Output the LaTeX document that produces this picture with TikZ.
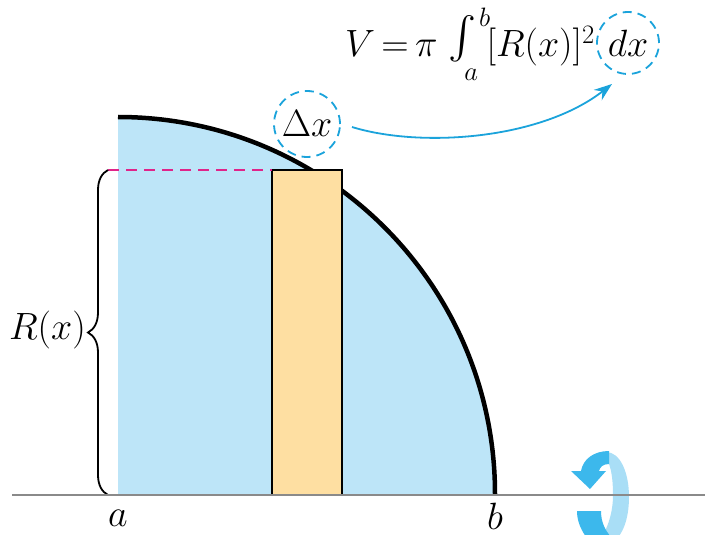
\RequirePackage{fix-cm}
\documentclass[tikz,border=0pt]{standalone}
\usepackage{graphicx}
\usetikzlibrary{decorations.pathreplacing,arrows.meta}
\definecolor{fillblue}{HTML}{BDE5F8}
\definecolor{rectorange}{HTML}{FEDFA2}
\definecolor{magentad}{HTML}{E0248A}
\definecolor{cyanl}{HTML}{1BA3DB}
\definecolor{rotdark}{HTML}{3CB8EC}
\definecolor{rotlight}{HTML}{A9DEF6}
\definecolor{axisgray}{HTML}{8A8A8A}
\newcommand\bigintegral{\mathop{\vcenter{\hbox{\scalebox{4.2}{$\int$}}}}\nolimits}
\tikzset{
  bigtext/.style={font=\fontsize{38}{42}\selectfont},
  dashcircle/.style={circle, draw=cyanl, line width=1.8pt, dash pattern=on 9pt off 6pt, inner sep=0pt},
}
\begin{document}
\begin{tikzpicture}[x=1pt,y=-1pt]
\useasboundingbox (0,0) rectangle (705,535);
% region under curve
\fill[fillblue] (118,495) -- (118,117) arc[start angle=-90,end angle=0,radius=377] -- cycle;
\draw[line width=4.5pt] (118,117) arc[start angle=-90,end angle=0,radius=377];
% slab
\node[draw=black, line width=1.5pt, fill=rectorange, minimum width=70pt, minimum height=325pt, inner sep=0pt, outer sep=0pt, anchor=south west] (slab) at (272,495) {};
% dashed height line
\coordinate (dashstart) at (108,170);
\draw[magentad, line width=1.8pt, dash pattern=on 11pt off 7pt] (dashstart) -- (slab.north west);
% brace
\coordinate (bbot) at (108,495);
\coordinate (btop) at (108,170);
\draw[decorate, decoration={brace, amplitude=20pt}, line width=1.8pt] (bbot) -- (btop);
\node[bigtext, anchor=east, inner sep=2pt] (rlabel) at (88,330) {$R(x)$};
% rotation symbol
\fill[rotlight] (606,452) .. controls (620,452) and (629,472) .. (629,497) .. controls (629,520) and (622,535) .. (615,540) -- (600,540) .. controls (608,528) and (613,512) .. (613,495) .. controls (613,475) and (610,460) .. (603,455) -- cycle;
\fill[rotdark] (609,451) -- (609,464) .. controls (603,464) and (600,467) .. (599,471) -- (606,471) -- (590,489) -- (571,471) -- (581,471) .. controls (583,459) and (594,451) .. (609,451) -- cycle;
\fill[rotdark] (577,511) -- (601,511) .. controls (601,522) and (605,530) .. (611,537) -- (586,537) .. controls (580,528) and (577,520) .. (577,511) -- cycle;
% axis
\coordinate (axl) at (12,495);
\coordinate (axr) at (705,495);
\draw[axisgray, line width=2pt] (axl) -- (axr);
\node[bigtext] (alabel) at (118,518) {$a$};
\node[bigtext] (blabel) at (495,516) {$b$};
% delta x and formula
\node[dashcircle, minimum size=66pt, bigtext] (dxsmall) at (307,124) {$\Delta x$};
\node[bigtext, anchor=base west, inner sep=0pt] (formula) at (345,57) {$V\mskip3mu{=}\mskip3mu\pi\mskip2mu\bigintegral_{\mskip-8mu a}^{\mskip2mu b}\mskip-2mu[R(x)]^2$};
\node[dashcircle, minimum size=62pt, bigtext] (dxbig) at (628,43) {$dx$};
\coordinate (arrowstart) at (352,127);
\coordinate (arrowend) at (612,84);
\draw[cyanl, line width=1.8pt, -{Stealth[length=18pt,width=13pt]}] (arrowstart) .. controls (420,148) and (540,140) .. (arrowend);
\end{tikzpicture}
\end{document}
